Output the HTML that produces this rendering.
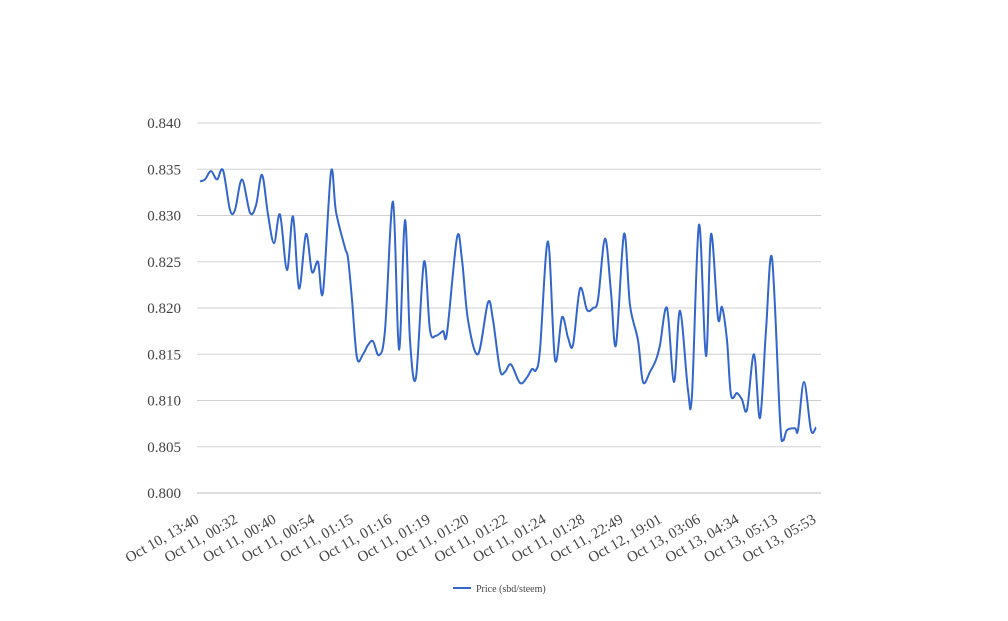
<!DOCTYPE html>
<html><head><meta charset="utf-8"><style>
body{margin:0;background:#fff;}
svg text{font-family:"Liberation Serif","DejaVu Serif",serif;fill:#444;}
</style></head><body>
<svg id="chart" width="1008" height="616" xmlns="http://www.w3.org/2000/svg">
<g id="grid"></g>
<g id="yaxis"></g>
<g id="xaxis"></g>
<path id="line" fill="none" stroke="#3366cc" stroke-width="2"/>
<g>
<line x1="453" y1="588" x2="471" y2="588" stroke="#3366cc" stroke-width="2"/>
<text x="476" y="592" font-size="10" fill="#222">Price (sbd/steem)</text>
</g>
</svg>
<script>
const yTicks=[0.800,0.805,0.810,0.815,0.820,0.825,0.830,0.835,0.840];
const xLabels=["Oct 10, 13:40","Oct 11, 00:32","Oct 11, 00:40","Oct 11, 00:54","Oct 11, 01:15","Oct 11, 01:16","Oct 11, 01:19","Oct 11, 01:20","Oct 11, 01:22","Oct 11, 01:24","Oct 11, 01:28","Oct 11, 22:49","Oct 12, 19:01","Oct 13, 03:06","Oct 13, 04:34","Oct 13, 05:13","Oct 13, 05:53"];
const tVals=[3,8,14,20,26,33,38,45,53,59,65,71,77,83,90,96,102,109,115,121,126,134,139,148,151,155,160,166,171,176,182,188,196,202,208,213,219,227,233,239,246,250,260,265,271,281,291,296,303,308,314,323,330,335,339,343,351,358,365,371,376,383,390,396,401,408,414,419,427,433,441,446,453,459,463,470,477,483,491,495,502,509,514,521,525,530,534,540,545,550,557,563,569,575,583,586,590,598,601,607,614,619];
const prices=[.8337,.8339,.8348,.8339,.8349,.8306,.8306,.8339,.8303,.8311,.8344,.8301,.8270,.8301,.8241,.8299,.8221,.8280,.8239,.8250,.8217,.8347,.8304,.8265,.8254,.8209,.8146,.8150,.8160,.8164,.8149,.8176,.8315,.8155,.8295,.8165,.8125,.8250,.8176,.8170,.8175,.8173,.8276,.8252,.8187,.8150,.8206,.8187,.8133,.8131,.8139,.8119,.8125,.8134,.8133,.8155,.8272,.8144,.8190,.8168,.8160,.8221,.8198,.8200,.8209,.8275,.8217,.8160,.8280,.8203,.8165,.8120,.8131,.8144,.8160,.8200,.8120,.8197,.8111,.8106,.8290,.8148,.8280,.8189,.8201,.8165,.8106,.8108,.8101,.8090,.8150,.8081,.8176,.8254,.8079,.8057,.8068,.8070,.8068,.8120,.8068,.8071];
const X0=197,X1=821,Y0=493,Y1=123,T1=624,VMIN=0.800,VMAX=0.840;
const xs=t=>X0+(t/T1)*(X1-X0);
const ys=v=>Y0-(v-VMIN)/(VMAX-VMIN)*(Y0-Y1);
const NS="http://www.w3.org/2000/svg";
const grid=document.getElementById('grid'),ya=document.getElementById('yaxis'),xa=document.getElementById('xaxis');
yTicks.forEach(v=>{
 const l=document.createElementNS(NS,'line');
 
 
 l.setAttribute('x1',X0);l.setAttribute('x2',X1);l.setAttribute('y1',ys(v));l.setAttribute('y2',ys(v));
 l.setAttribute('stroke',v===VMIN?'#bbb':'#d0d0d0');l.setAttribute('stroke-width','1');
 grid.appendChild(l);
 const t=document.createElementNS(NS,'text');
 
 
 t.setAttribute('x',181);t.setAttribute('y',ys(v)+5);t.setAttribute('text-anchor','end');t.setAttribute('font-size','15');
 t.textContent=v.toFixed(3);ya.appendChild(t);
});
xLabels.forEach((s,i)=>{
 const x=200+i*(817-200)/(xLabels.length-1),y=522;
 const t=document.createElementNS(NS,'text');
 
 
 t.setAttribute('x',x);t.setAttribute('y',y);t.setAttribute('text-anchor','end');t.setAttribute('font-size','15');
 t.setAttribute('transform','rotate(-30 '+x+' '+y+')');
 t.textContent=s;xa.appendChild(t);
});
const P=tVals.map((t,i)=>[xs(t),ys(prices[i])]);
let d='M'+P[0][0]+','+P[0][1];
for(let i=0;i<P.length-1;i++){
 const p0=P[Math.max(0,i-1)],p1=P[i],p2=P[i+1],p3=P[Math.min(P.length-1,i+2)];
 const k=6;
 d+=' C'+(p1[0]+(p2[0]-p0[0])/k)+','+(p1[1]+(p2[1]-p0[1])/k)+' '+(p2[0]-(p3[0]-p1[0])/k)+','+(p2[1]-(p3[1]-p1[1])/k)+' '+p2[0]+','+p2[1];
}
document.getElementById('line').setAttribute('d',d);
</script>
</body></html>
